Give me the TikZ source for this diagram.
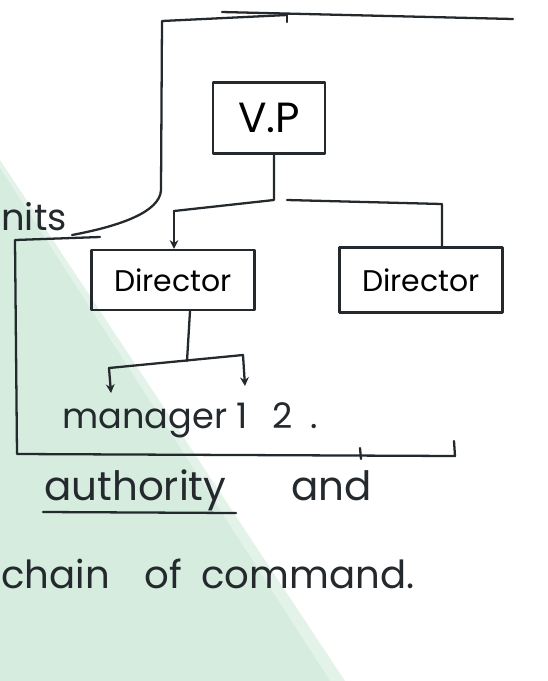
\documentclass[tikz,border=0pt]{standalone}
\usepackage{fontspec}
\setmainfont{Poppins}
\usetikzlibrary{arrows.meta}
\definecolor{ink}{HTML}{24292D}
\definecolor{mint}{HTML}{D5ECDF}
\definecolor{mintlight}{HTML}{E4F3EA}
\tikzset{
  pen/.style={draw=ink, line width=1.3pt, line cap=round, line join=round},
  box/.style={pen, rectangle, inner sep=0pt},
  hand/.style={text=ink, inner sep=0pt},
  tip/.style={-{Stealth[length=5pt,width=5pt]}},
}
\begin{document}
\begin{tikzpicture}[x=0.02cm, y=-0.02cm]
  % canvas
  \fill[white] (0,0) rectangle (548,681);
  \useasboundingbox (0,0) rectangle (548,681);
  % mint band on the lower left
  \fill[mintlight] (0,160) -- (345,681) -- (0,681) -- cycle;
  \fill[mint] (0,168) -- (330,681) -- (0,681) -- cycle;

  % boxes
  \node[box, minimum width=2.24cm, minimum height=1.42cm] (vp) at (269,118)
    {\fontsize{24}{28}\selectfont V.P};
  \node[box, minimum width=3.26cm, minimum height=1.2cm] (dirA) at (173,280)
    {\fontsize{17}{20}\selectfont Director};
  \node[box, minimum width=3.26cm, minimum height=1.3cm] (dirB) at (421,280)
    {\fontsize{17}{20}\selectfont Director};

  % texts
  \node[hand, anchor=base west] (nits) at (1,230) {\fontsize{21}{25}\selectfont nits};
  \node[hand, anchor=base west] (mgr) at (62,428) {\fontsize{20}{24}\selectfont manager 1\hspace{0.7em}2\hspace{0.5em}.};
  \node[hand, anchor=base west] (auth) at (44,500) {\fontsize{23}{28}\selectfont authority\hspace{1.6em}and};
  \node[hand, anchor=base west] (chain) at (1,588) {\fontsize{22}{27}\selectfont chain\hspace{0.9em}of\hspace{0.5em}command.};

  % V.P branches
  \coordinate (vpj) at (274,200);
  \coordinate (lj) at (174,211);
  \coordinate (rs) at (287,200);
  \coordinate (rj) at (442,204);
  \draw[pen] (vp.south -| vpj) -- (vpj) -- (lj);
  \draw[pen, tip] (lj) -- (lj |- dirA.north);
  \draw[pen] (rs) -- (rj) -- (rj |- dirB.north);

  % Director to managers
  \coordinate (dj) at (187,361);
  \coordinate (m1) at (109,368);
  \coordinate (m2) at (243,355);
  \draw[pen] (dirA.south -| 190,0) -- (dj);
  \draw[pen] (m1) -- (m2);
  \draw[pen, tip] (m1) -- (111,393);
  \draw[pen, tip] (m2) -- (245,386);

  % outer bracket
  \coordinate (tl) at (162,21);
  \coordinate (tk) at (287,15);
  \draw[pen] (tk) -- ++(0,7);
  \draw[pen] (tk) -- (tl) -- (161,190)
    .. controls (160,212) and (120,226) .. (72,235);
  \draw[pen] (222,12) -- (513,19);
  \coordinate (fl) at (15,240);
  \coordinate (fb) at (17,454);
  \coordinate (fr) at (455,456);
  \draw[pen] (100,237) -- (fl) -- (fb) -- (fr) -- (454,441);
  \draw[pen] (360,448) -- (361,459);

  % underline of authority
  \draw[pen] (43,512) -- (236,513);
\end{tikzpicture}
\end{document}
